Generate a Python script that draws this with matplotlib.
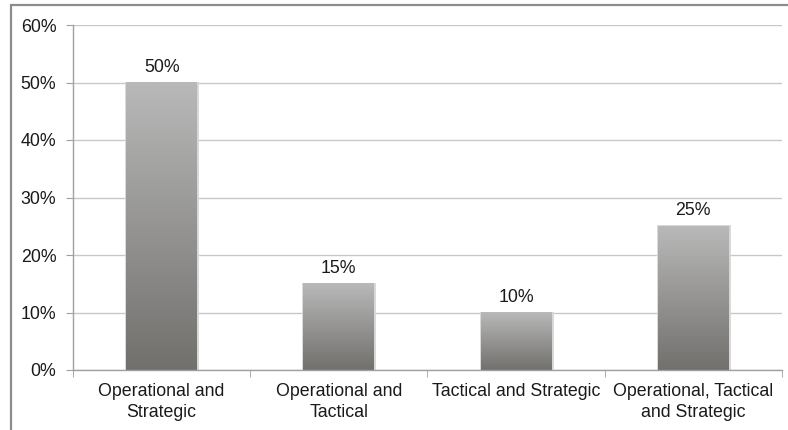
import matplotlib
matplotlib.use("Agg")
import matplotlib.pyplot as plt
import numpy as np
from matplotlib.colors import LinearSegmentedColormap
from matplotlib.patches import Rectangle

categories = ["Operational and\nStrategic", "Operational and\nTactical",
              "Tactical and Strategic", "Operational, Tactical\nand Strategic"]
values = [50, 15, 10, 25]
yticks = [0, 10, 20, 30, 40, 50, 60]

plt.rcParams['font.family'] = ['Liberation Sans', 'DejaVu Sans']
FS = 12.8

fig = plt.figure(figsize=(7.88, 4.30), dpi=100)
ax = fig.add_axes([73/788, 1 - 370/430, (782 - 73)/788, (370 - 25)/430])

# outer chart frame
fig.patches.append(Rectangle((11/788, -0.1), 1.2, 1.1 - 5/430, transform=fig.transFigure,
                             fill=False, edgecolor="#8c8c8c", linewidth=1.6, zorder=0))

x = np.arange(len(categories))
# soft shadow edge around each bar
bars = ax.bar(x, values, width=0.4, color="none", edgecolor="#d6d6d6",
              linewidth=2.0, zorder=2)

cmap = LinearSegmentedColormap.from_list("g", ["#71706d", "#b9b9b9"])
grad = np.linspace(0, 1, 256).reshape(-1, 1)
for b, v in zip(bars, values):
    x0 = b.get_x()
    w = b.get_width()
    ax.imshow(grad, cmap=cmap, origin="lower", aspect="auto",
              extent=(x0, x0 + w, 0, v), zorder=3, interpolation="bilinear")
    ax.annotate(f"{v}%", (x0 + w / 2, v), xytext=(0, 5), textcoords="offset points",
                ha="center", va="bottom", fontsize=FS, color="#1a1a1a")

ax.set_xlim(-0.5, len(categories) - 0.5)
ax.set_ylim(0, 60)
ax.set_yticks(yticks)
ax.set_yticklabels([f"{t}%" for t in yticks], fontsize=FS, color="#1a1a1a")
ax.set_xticks(x)
ax.set_xticklabels(categories, fontsize=FS, color="#1a1a1a", linespacing=1.35)
ax.set_xticks(np.arange(-0.5, len(categories)), minor=True)
ax.tick_params(axis="x", which="major", length=0, pad=9)
ax.tick_params(axis="x", which="minor", length=5, color="#a0a0a0")
ax.tick_params(axis="y", length=5, color="#a0a0a0", pad=7)

ax.grid(axis="y", color="#c8c8c8", linewidth=1, zorder=0)
ax.set_axisbelow(True)
for s in ["top", "right"]:
    ax.spines[s].set_visible(False)
for s in ["left", "bottom"]:
    ax.spines[s].set_color("#a0a0a0")
    ax.spines[s].set_linewidth(1)
    ax.spines[s].set_zorder(4)

fig.savefig("out.png", dpi=100)
